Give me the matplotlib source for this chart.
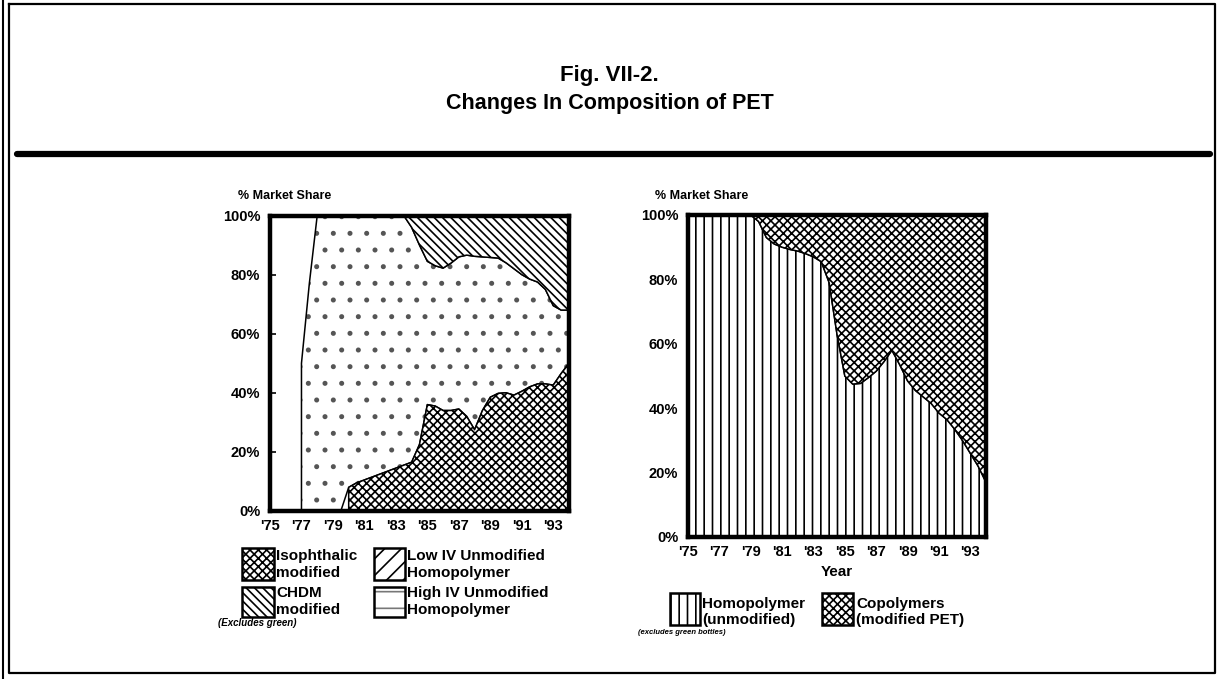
import numpy as np
import matplotlib
matplotlib.use("Agg")
import matplotlib.pyplot as plt
from matplotlib.patches import Rectangle
from matplotlib.lines import Line2D

# ---------------- data ----------------
years = np.arange(1975, 1994.01, 0.5)
nan = np.nan

# Left chart: % market share by type (stacked bottom -> top)
isophthalic = np.array([nan] * 10 + [
    8, 9.5, 10.5, 11.5, 12.5, 13.5, 14.5, 15.5, 16.5, 22.5,
    36, 35.5, 34, 34, 34.5, 32, 27.5, 34, 38.5, 39.8,
    40, 39.2, 40.5, 42, 43, 43, 42.6, 46.5, 50])
low_iv = np.array([nan] * 4 + [
    50, 77, 100, 100, 100, 100,
    92, 90.5, 89.5, 88.5, 87.5, 86.5, 85.5, 84.5, 79.5, 67.5,
    48.5, 47.5, 48.2, 49.9, 51.5, 54.6, 58.7, 52, 47.3, 45.8,
    44, 42.8, 39.5, 36.5, 34.5, 32, 26.9, 21.5, 18])
high_iv = np.array([100, 100, 100, 100, 50, 23, 0] + [nan] * 32)
chdm = np.array([nan] * 17 + [
    0, 4, 10, 15.5, 17, 17.8, 16.1, 14, 13.4, 13.8, 14, 14.2, 14.4,
    16, 18, 20, 21.5, 22.5, 25, 30.5, 32, 32])

# Right chart
homopolymer = np.array([100] * 9 + [
    98, 93, 91, 90, 89.3, 88.8, 88, 87, 85.5, 79,
    63, 50, 47.5, 47.7, 49.5, 51.5, 54.5, 58, 53.5, 48.5,
    45.5, 43.5, 41.5, 38.5, 36.5, 33.5, 30, 26, 22, 17])
copolymers = np.array([0] * 9 + [
    2, 7, 9, 10, 10.7, 11.2, 12, 13, 14.5, 21,
    37, 50, 52.5, 52.3, 50.5, 48.5, 45.5, 42, 46.5, 51.5,
    54.5, 56.5, 58.5, 61.5, 63.5, 66.5, 70, 74, 78, 83])

tick_years = [1975, 1977, 1979, 1981, 1983, 1985, 1987, 1989, 1991, 1993]
tick_labels = ["'75", "'77", "'79", "'81", "'83", "'85", "'87", "'89", "'91", "'93"]
pct_ticks = [0, 20, 40, 60, 80, 100]
pct_labels = ["0%", "20%", "40%", "60%", "80%", "100%"]

# ---------------- figure ----------------
W, H = 1219, 679
plt.rcParams['font.family'] = ['Liberation Sans', 'DejaVu Sans']
plt.rcParams['hatch.linewidth'] = 1.2
fig = plt.figure(figsize=(W / 100, H / 100), dpi=100)
fig.patch.set_facecolor('white')


def fx(px):
    return px / W


def fy(py):
    return 1 - py / H


def make_axes(x0, y0, x1, y1):
    ax = fig.add_axes([fx(x0), fy(y1), (x1 - x0) / W, (y1 - y0) / H])
    ax.set_xlim(1975, 1994)
    ax.set_ylim(0, 100)
    for s in ax.spines.values():
        s.set_linewidth(3.2)
        s.set_zorder(5)
    ax.set_xticks(tick_years)
    ax.set_xticklabels(tick_labels, fontsize=10.5, fontweight='bold')
    ax.set_yticks(pct_ticks)
    ax.set_yticklabels(pct_labels, fontsize=10.5, fontweight='bold')
    ax.tick_params(axis='y', direction='in', length=4, width=1.2, pad=7)
    ax.tick_params(axis='x', length=0, pad=6)
    return ax


# ---- left chart ----
axL = make_axes(270, 215.5, 569, 511)
iso0 = np.nan_to_num(isophthalic)
low_top = iso0 + low_iv
low0 = np.nan_to_num(low_iv)
high_bot = iso0 + low0
high_top = high_bot + high_iv
chdm_bot = high_bot + np.nan_to_num(high_iv)
chdm_top = chdm_bot + chdm

axL.fill_between(years, iso0, low_top, facecolor='white', edgecolor='#555555',
                 hatch='.', linewidth=0, zorder=1.5)
axL.fill_between(years, iso0, low_top, facecolor='none', edgecolor='black',
                 linewidth=1.1, zorder=1.6)
axL.fill_between(years, high_bot, high_top, facecolor='white', linewidth=0, zorder=1)
axL.fill_between(years, 0, isophthalic, facecolor='white', edgecolor='black',
                 hatch='xxxx', linewidth=1.1, zorder=2)
axL.fill_between(years, chdm_bot, chdm_top, facecolor='white', edgecolor='black',
                 hatch='\\\\\\\\', linewidth=1.1, zorder=2)

# ---- right chart ----
axR = make_axes(688, 215, 986, 537)
axR.fill_between(years, 0, homopolymer, facecolor='white', edgecolor='black',
                 hatch='||', linewidth=1.1, zorder=2)
axR.fill_between(years, homopolymer, homopolymer + copolymers, facecolor='white',
                 edgecolor='black', hatch='xxxx', linewidth=1.1, zorder=2)
axR.set_xlabel('Year', fontsize=11, fontweight='bold', labelpad=4)

# ---- titles / texts ----
fig.text(0.5, fy(75), 'Fig. VII-2.', ha='center', va='center', fontsize=16, fontweight='bold')
fig.text(0.5, fy(104), 'Changes In Composition of PET', ha='center', va='center',
         fontsize=15.5, fontweight='bold')
fig.text(fx(238), fy(196), '% Market Share', ha='left', va='center', fontsize=9, fontweight='bold')
fig.text(fx(655), fy(196), '% Market Share', ha='left', va='center', fontsize=9, fontweight='bold')


# ---- legends ----
def swatch(x0, y0, x1, y1, hatch, hatch_color='black'):
    r = Rectangle((fx(x0), fy(y1)), (x1 - x0) / W, (y1 - y0) / H, transform=fig.transFigure,
                  facecolor='white', edgecolor=hatch_color, hatch=hatch, linewidth=0)
    fig.patches.append(r)
    b = Rectangle((fx(x0), fy(y1)), (x1 - x0) / W, (y1 - y0) / H, transform=fig.transFigure,
                  facecolor='none', edgecolor='black', linewidth=1.8)
    fig.patches.append(b)


def label2(x, y1, y2, l1, l2, size=11):
    fig.text(fx(x), fy(y1), l1, ha='left', va='center', fontsize=size, fontweight='bold')
    fig.text(fx(x), fy(y2), l2, ha='left', va='center', fontsize=size, fontweight='bold')


swatch(242, 548, 274, 580, 'xxxx')
label2(276, 556, 573, 'Isophthalic', 'modified')
swatch(374, 548, 405, 580, '//')
label2(407, 556, 573, 'Low IV Unmodified', 'Homopolymer')
swatch(242, 587, 274, 617, '\\\\\\\\')
label2(276, 593, 610, 'CHDM', 'modified')
swatch(374, 587, 405, 617, '-', hatch_color='#777777')
label2(407, 593, 610, 'High IV Unmodified', 'Homopolymer')
fig.text(fx(218), fy(623), '(Excludes green)', ha='left', va='center', fontsize=7,
         fontstyle='italic', fontweight='bold')

swatch(670, 593, 700, 625, '||')
label2(702, 604, 620, 'Homopolymer', '(unmodified)')
swatch(822, 593, 853, 625, 'xxxx')
label2(856, 604, 620, 'Copolymers', '(modified PET)')
fig.text(fx(638), fy(633), '(excludes green bottles)', ha='left', va='center', fontsize=5.5,
         fontstyle='italic', fontweight='bold')

# ---- page frame and rule ----
fig.add_artist(Line2D([fx(3), fx(3)], [0, 1], transform=fig.transFigure, color='black', lw=1.5))
fig.add_artist(Line2D([fx(9), fx(1215), fx(1215), fx(9), fx(9)],
                      [fy(4), fy(4), fy(673), fy(673), fy(4)],
                      transform=fig.transFigure, color='black', lw=1.6))
fig.add_artist(Line2D([fx(17), fx(1210)], [fy(154), fy(154)], transform=fig.transFigure,
                      color='black', lw=4.5, solid_capstyle='round'))

fig.savefig('out.png', dpi=100, facecolor='white')
